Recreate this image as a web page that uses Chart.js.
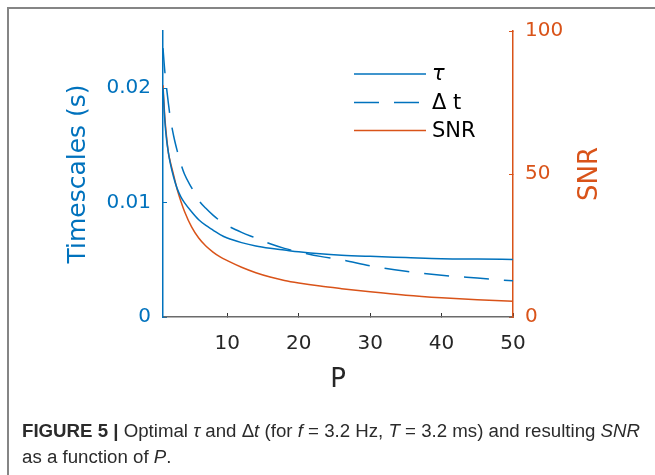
<!DOCTYPE html>
<html>
<head>
<meta charset="utf-8">
<script src="https://cdn.jsdelivr.net/npm/chart.js@4.4.0/dist/chart.umd.min.js"></script>
<style>
  html, body { margin: 0; padding: 0; background: #fff; width: 655px; height: 475px; overflow: hidden; }
  #frame { position: absolute; left: 7px; top: 7px; width: 720px; height: 540px; border: 2px solid #858585; box-sizing: border-box; }
  #chart { position: absolute; left: 0; top: 0; }
  #caption { position: absolute; left: 22px; top: 418px; font-family: "Liberation Sans Narrow", "Liberation Sans", Arial, sans-serif;
             font-size: 18px; line-height: 26px; color: #2b2b2b; transform-origin: 0 0; white-space: nowrap; }
  #caption div { display: inline-block; }
</style>
</head>
<body>
<div id="frame"></div>
<canvas id="chart" width="655" height="475"></canvas>
<div id="caption">
  <div id="line1"><b>FIGURE 5 |</b> Optimal <i>τ</i> and Δ<i>t</i> (for <i>f</i> = 3.2 Hz, <i>T</i> = 3.2 ms) and resulting <i>SNR</i></div><br>
  <div>as a function of <i>P</i>.</div>
</div>
<script>
// values
var P = [1, 1.25, 1.5, 1.75, 2, 2.5, 3, 3.5, 4, 5, 6, 7, 8, 9, 10, 12, 14, 16, 18, 20, 23, 26, 30, 35, 40, 45, 50];
var tau = [0.0200, 0.0172, 0.0155, 0.0144, 0.0135, 0.0122, 0.0112, 0.0105, 0.0100, 0.0092, 0.0085, 0.0080, 0.0076, 0.0072, 0.0069,
           0.0065, 0.0062, 0.0060, 0.00585, 0.0057, 0.00552, 0.0054, 0.0053, 0.0052, 0.0051, 0.00506, 0.00503];
var deltaT = [0.0235, 0.0215, 0.0200, 0.0187, 0.0175, 0.0158, 0.0145, 0.0134, 0.0125, 0.0113, 0.0102, 0.0095, 0.0089, 0.0084, 0.0080,
              0.0074, 0.0069, 0.0064, 0.0060, 0.0057, 0.0053, 0.0050, 0.00448, 0.0040, 0.00365, 0.0034, 0.00316];
var snr = [81, 70, 63, 57.5, 54.5, 49.5, 44.5, 40.5, 37, 31.5, 27.6, 24.8, 22.7, 21.0, 19.7,
           17.4, 15.5, 14.0, 12.8, 11.9, 10.8, 9.9, 8.8, 7.6, 6.7, 6.0, 5.5];

var xTicks = [10, 20, 30, 40, 50];
var leftTicks = [0, 0.01, 0.02];
var rightTicks = [0, 50, 100];

var BLUE = '#0072BD';
var ORANGE = '#D95319';
var FONT = 'DejaVu Sans';

function toPoints(xs, ys) {
  var pts = [];
  for (var i = 0; i < xs.length; i++) {
    pts.push({x: xs[i], y: ys[i]});
  }
  return pts;
}

function fixedTicks(list) {
  return function(scale) {
    scale.ticks = list.map(function(v) { return {value: v}; });
  };
}

// legend inside the plot + right axis title (reads bottom to top like the left one)
var extras = {
  id: 'extras',
  afterDraw: function(chart) {
    var ctx = chart.ctx;
    var area = chart.chartArea;
    var x0 = area.left + 191;
    var rows = [43, 71.5, 99.5];
    ctx.save();
    chart.data.datasets.forEach(function(ds, i) {
      var y = area.top + rows[i];
      ctx.strokeStyle = ds.borderColor;
      ctx.lineWidth = ds.borderWidth;
      ctx.setLineDash(ds.borderDash || []);
      ctx.beginPath();
      ctx.moveTo(x0, y);
      ctx.lineTo(x0 + 72, y);
      ctx.stroke();
      ctx.setLineDash([]);
      ctx.fillStyle = '#000';
      ctx.font = (ds.label === 'τ' ? 'italic ' : '') + '21px "' + FONT + '"';
      ctx.textBaseline = 'middle';
      ctx.textAlign = 'left';
      ctx.fillText(ds.label, x0 + 78, y + 1);
    });

    ctx.translate(590, (area.top + area.bottom) / 2);
    ctx.rotate(-Math.PI / 2);
    ctx.fillStyle = ORANGE;
    ctx.font = '26px "' + FONT + '"';
    ctx.textAlign = 'center';
    ctx.textBaseline = 'middle';
    ctx.fillText('SNR', 0, 0);
    ctx.restore();
  }
};

var chart = new Chart(document.getElementById('chart'), {
  type: 'line',
  data: {
    datasets: [{
      label: 'τ',
      data: toPoints(P, tau),
      borderColor: BLUE,
      borderWidth: 1.5,
      yAxisID: 'y'
    }, {
      label: 'Δ t',
      data: toPoints(P, deltaT),
      borderColor: BLUE,
      borderWidth: 1.5,
      borderDash: [25, 15],
      yAxisID: 'y'
    }, {
      label: 'SNR',
      data: toPoints(P, snr),
      borderColor: ORANGE,
      borderWidth: 1.5,
      yAxisID: 'y2'
    }]
  },
  options: {
    responsive: false,
    animation: false,
    cubicInterpolationMode: 'monotone',
    elements: { point: { radius: 0 } },
    layout: { padding: { top: 31, bottom: 55, left: 0, right: 0 } },
    plugins: { legend: { display: false }, tooltip: { enabled: false } },
    scales: {
      x: {
        type: 'linear',
        min: 1,
        max: 50,
        afterBuildTicks: fixedTicks(xTicks),
        afterFit: function(s) { s.height = 103; },
        border: { color: '#6b6b6b', width: 1.5 },
        grid: { drawOnChartArea: false, drawTicks: true, tickLength: -4, color: '#333' },
        ticks: { color: '#262626', padding: 19, font: { family: FONT, size: 20 } },
        title: { display: true, text: 'P', color: '#262626', padding: { top: 0, bottom: 24 }, font: { family: FONT, size: 26 } }
      },
      y: {
        position: 'left',
        min: 0,
        max: 0.025,
        afterBuildTicks: fixedTicks(leftTicks),
        afterFit: function(s) { s.width = 163; },
        border: { color: BLUE, width: 1.5 },
        grid: { drawOnChartArea: false, drawTicks: true, tickLength: -4, color: BLUE },
        ticks: { color: BLUE, padding: 16, font: { family: FONT, size: 20 },
                 callback: function(v) { return String(v); } },
        title: { display: true, text: 'Timescales (s)', color: BLUE, padding: { top: 63, bottom: 0 }, font: { family: FONT, size: 25 } }
      },
      y2: {
        position: 'right',
        min: 0,
        max: 100,
        afterBuildTicks: fixedTicks(rightTicks),
        afterFit: function(s) { s.width = 142; },
        border: { color: ORANGE, width: 1.5 },
        grid: { drawOnChartArea: false, drawTicks: true, tickLength: -4, color: ORANGE },
        ticks: { color: ORANGE, padding: 16, font: { family: FONT, size: 20 } }
      }
    }
  },
  plugins: [extras]
});

// squeeze the caption to the width it has in the figure
var cap = document.getElementById('caption');
var w = document.getElementById('line1').getBoundingClientRect().width;
cap.style.transform = 'scaleX(' + (618 / w) + ')';
</script>
</body>
</html>
